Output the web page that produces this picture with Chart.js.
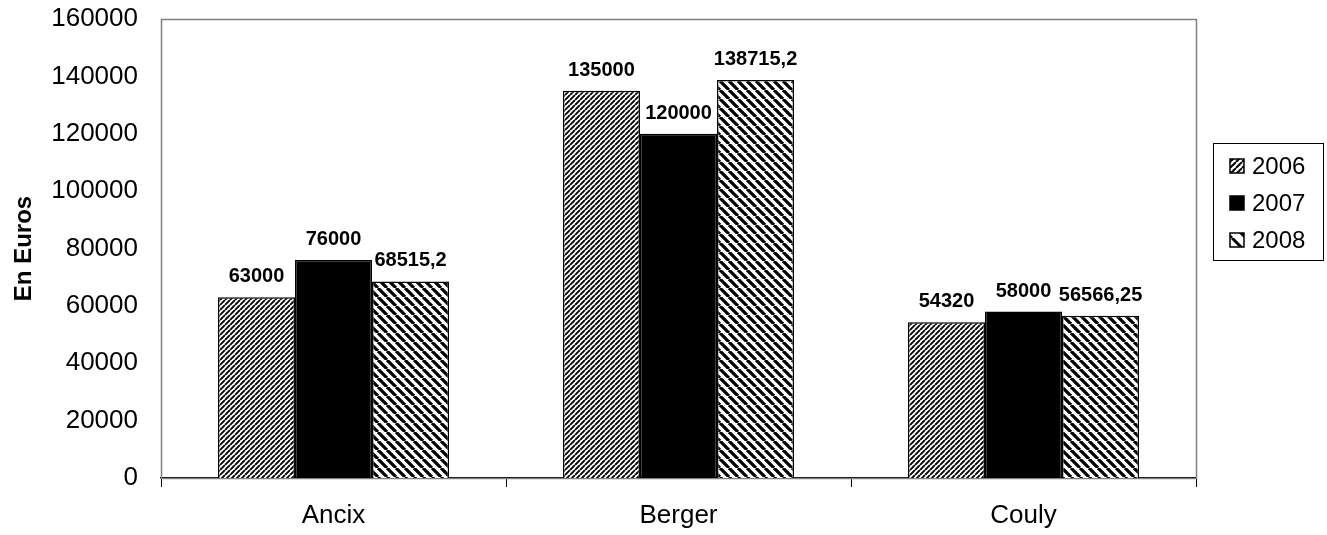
<!DOCTYPE html>
<html>
<head>
<meta charset="utf-8">
<script src="https://cdn.jsdelivr.net/npm/chart.js@4.4.0/dist/chart.umd.min.js"></script>
<style>
  html, body { margin: 0; padding: 0; background: #fff; }
  #wrap { width: 1327px; height: 535px; }
</style>
</head>
<body>
<div id="wrap"><canvas id="chart"></canvas></div>
<script>
const categories = ['Ancix', 'Berger', 'Couly'];
const years = ['2006', '2007', '2008'];
const values2006 = [63000, 135000, 54320];
const values2007 = [76000, 120000, 58000];
const values2008 = [68515.2, 138715.2, 56566.25];
const yMin = 0, yMax = 160000, yStep = 20000;

const FONT = "'Liberation Sans', Arial, sans-serif";
const canvas = document.getElementById('chart');
const ctx = canvas.getContext('2d');

// diagonal hatch, dir '/' or '\'
function stripes(period, lw, dir) {
  const c = document.createElement('canvas');
  c.width = c.height = period;
  const g = c.getContext('2d');
  g.fillStyle = '#fff';
  g.fillRect(0, 0, period, period);
  g.strokeStyle = '#000';
  g.lineWidth = lw;
  g.beginPath();
  for (let k = -1; k <= 1; k++) {
    if (dir === '/') { g.moveTo(k * period, period); g.lineTo(k * period + period, 0); }
    else { g.moveTo(k * period, 0); g.lineTo(k * period + period, period); }
  }
  g.stroke();
  return ctx.createPattern(c, 'repeat');
}

const fill2006 = stripes(5, 1.9, '/');
const fill2008 = stripes(9, 3.2, '\\');
const legend2006 = stripes(6, 2, '/');
const legend2008 = stripes(14, 3, '\\');

const fmt = v => String(v).replace('.', ',');

const frame = {
  id: 'frame',
  beforeDatasetsDraw(chart) {
    const a = chart.chartArea, c = chart.ctx;
    c.save();
    c.strokeStyle = '#808080';
    c.lineWidth = 1.5;
    c.strokeRect(a.left + 0.5, a.top + 0.5, a.right - a.left, a.bottom - a.top);
    c.restore();
  }
};

const valueLabels = {
  id: 'valueLabels',
  afterDatasetsDraw(chart) {
    const c = chart.ctx;
    c.save();
    c.font = 'bold 20px ' + FONT;
    c.fillStyle = '#000';
    c.textAlign = 'center';
    c.textBaseline = 'alphabetic';
    chart.data.datasets.forEach((ds, i) => {
      chart.getDatasetMeta(i).data.forEach((bar, j) => {
        c.fillText(fmt(ds.data[j]), bar.x, bar.y - 15);
      });
    });
    c.restore();
  }
};

const boxLegend = {
  id: 'boxLegend',
  afterDraw(chart) {
    const c = chart.ctx;
    const fills = [legend2006, '#000', legend2008];
    c.save();
    c.strokeStyle = '#000';
    c.lineWidth = 1;
    c.strokeRect(1213.5, 143.5, 110, 117);
    c.font = '24px ' + FONT;
    c.textBaseline = 'middle';
    c.textAlign = 'left';
    years.forEach((y, i) => {
      const cy = 166 + i * 37;
      c.fillStyle = fills[i];
      c.fillRect(1230, cy - 7, 14, 14);
      c.strokeStyle = '#000';
      c.lineWidth = 1.5;
      c.strokeRect(1230, cy - 7, 14, 14);
      c.fillStyle = '#000';
      c.fillText(y, 1252, cy + 1);
    });
    c.restore();
  }
};

function noEdgePadding(scale) {
  scale.paddingTop = 0;
  scale.paddingBottom = 0;
  scale.paddingLeft = 0;
  scale.paddingRight = 0;
}

new Chart(ctx, {
  type: 'bar',
  data: {
    labels: categories,
    datasets: [
      { label: years[0], data: values2006, backgroundColor: fill2006 },
      { label: years[1], data: values2007, backgroundColor: '#000' },
      { label: years[2], data: values2008, backgroundColor: fill2008 }
    ].map(d => Object.assign(d, {
      borderColor: '#000',
      borderWidth: 1.5,
      categoryPercentage: 0.67,
      barPercentage: 1
    }))
  },
  options: {
    responsive: true,
    maintainAspectRatio: false,
    animation: false,
    devicePixelRatio: 1,
    layout: { padding: { top: 19, right: 131, left: 0, bottom: 0 } },
    plugins: { legend: { display: false }, tooltip: { enabled: false } },
    scales: {
      x: {
        grid: { display: true, drawOnChartArea: false, offset: true, tickLength: 9, color: '#000' },
        border: { display: true, color: '#000', width: 1.5 },
        ticks: { font: { family: FONT, size: 26 }, color: '#000', padding: 13 },
        afterFit(scale) { scale.height = 57; noEdgePadding(scale); }
      },
      y: {
        min: yMin, max: yMax,
        grid: { display: false },
        border: { display: false },
        ticks: {
          stepSize: yStep,
          font: { family: FONT, size: 26 },
          color: '#000',
          padding: 15,
          callback: v => String(v)
        },
        title: { display: true, text: 'En Euros', font: { family: FONT, size: 24, weight: 'bold' }, color: '#000', padding: { top: 10, bottom: 0 } },
        afterFit(scale) { scale.width = 161; noEdgePadding(scale); }
      }
    }
  },
  plugins: [frame, valueLabels, boxLegend]
});
</script>
</body>
</html>
